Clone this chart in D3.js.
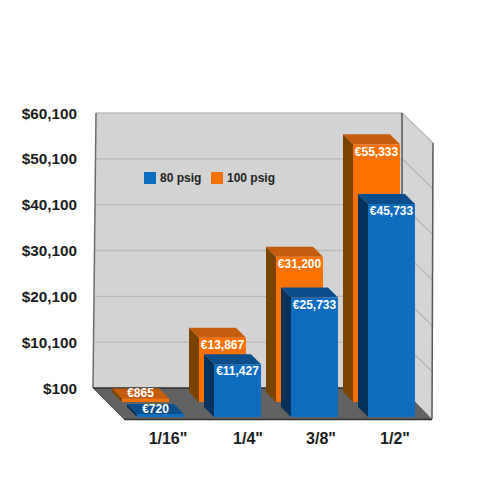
<!DOCTYPE html>
<html><head><meta charset="utf-8">
<script src="https://cdn.jsdelivr.net/npm/d3@7/dist/d3.min.js"></script>
<style>html,body{margin:0;padding:0;background:#fff}svg{display:block}text{font-family:"Liberation Sans",Arial,sans-serif;font-weight:700}</style>
</head><body><svg id="c" width="500" height="500"></svg>
<script>
const categories = ['1/16"', '1/4"', '3/8"', '1/2"'];
const values80 = [720, 11427, 25733, 45733];
const values100 = [865, 13867, 31200, 55333];
const labels80 = ['€720', '€11,427', '€25,733', '€45,733'];
const labels100 = ['€865', '€13,867', '€31,200', '€55,333'];
const tickValues = [100, 10100, 20100, 30100, 40100, 50100, 60100];

const svg = d3.select('#c');
const wall = d3.scaleLinear().domain([100, 60100]).range([388, 113]);
const barH = d3.scaleLinear().domain([100, 60100]).range([0, 280]);
const band = d3.scaleBand().domain(categories).range([122, 430]);
const catLabelX = d3.scaleOrdinal().domain(categories).range([168, 248, 321, 395]);
const depth = 10, barW = 47;

const poly = (pts, fill, stroke) => svg.append('polygon')
  .attr('points', pts.map(p => p.join(',')).join(' '))
  .attr('fill', fill).attr('stroke', stroke || 'none');
const line = (a, b, color, w) => svg.append('line')
  .attr('x1', a[0]).attr('y1', a[1]).attr('x2', b[0]).attr('y2', b[1])
  .attr('stroke', color).attr('stroke-width', w);

// walls and floor
poly([[96,113],[402,113],[402,388],[93,388]], '#d4d3d3');
poly([[402,113],[433,143],[432,419],[402,388]], '#d6d5d5');
poly([[93,388],[402,388],[432,419],[124,419]], '#626262');

tickValues.slice(1, -1).forEach(v => {
  line([95, wall(v)], [402, wall(v)], '#b7b7be', 1.4);
  line([402, wall(v)], [433, wall(v) + 30], '#b7b7be', 1.4);
});
line([96,113], [402,113], '#bcbcbc', 1.5);
line([402,113], [433,143], '#bcbcbc', 1.5);
line([96,113], [93,388], '#6c6c6c', 1.5);
line([402,113], [402,388], '#55585c', 1.5);
line([433,143], [432,419], '#55585c', 1.5);
line([93,388], [402,388], '#2e2e2e', 1.5);
line([93,388], [124,419], '#555', 1);
line([124,419.5], [432,419.5], '#333', 1.5);

// bars
function drawSeries(vals, labels, offset, base, front, top, side) {
  categories.forEach((c, i) => {
    const x0 = band(c) + offset, x1 = x0 + barW, h = barH(vals[i]), yT = base - h;
    poly([[x0 - depth, yT - depth], [x0, yT], [x0, base], [x0 - depth, base - depth]], side);
    poly([[x0 - depth, yT - depth], [x1 - depth, yT - depth], [x1, yT], [x0, yT]], top);
    poly([[x0, yT], [x1, yT], [x1, base], [x0, base]], front);
    const flat = h < 20;
    svg.append('text')
      .attr('x', (x0 + x1) / 2 - (flat ? 5 : 0))
      .attr('y', yT + (flat ? -5.5 : 7)).attr('dy', '0.36em')
      .attr('text-anchor', 'middle').attr('font-size', 12).attr('fill', '#fff')
      .text(labels[i]);
  });
}
drawSeries(values100, labels100, 0, 402, '#fb7100', '#c65d0c', '#7a4300');
drawSeries(values80, labels80, 15, 417, '#0b6cc0', '#0a4f8c', '#06315a');

// y tick labels
svg.append('g').selectAll('text').data(tickValues).join('text')
  .attr('x', 77).attr('y', d => wall(d)).attr('dy', '0.36em')
  .attr('text-anchor', 'end').attr('font-size', 15.3).attr('fill', '#1c1c1c')
  .text(d => '$' + d3.format(',')(d));

// x labels
svg.append('g').selectAll('text').data(categories).join('text')
  .attr('x', d => catLabelX(d)).attr('y', 438).attr('dy', '0.36em')
  .attr('text-anchor', 'middle').attr('font-size', 16).attr('fill', '#1c1c1c')
  .text(d => d);

// legend
const legendItems = [['80 psig', '#0b6cc0', 144], ['100 psig', '#fb7100', 211]];
legendItems.forEach(([t, col, x]) => {
  svg.append('rect').attr('x', x).attr('y', 172).attr('width', 12).attr('height', 12).attr('fill', col);
  svg.append('text').attr('x', x + 16).attr('y', 178).attr('dy', '0.36em')
    .attr('font-size', 12).attr('fill', '#222').text(t);
});
</script></body></html>
